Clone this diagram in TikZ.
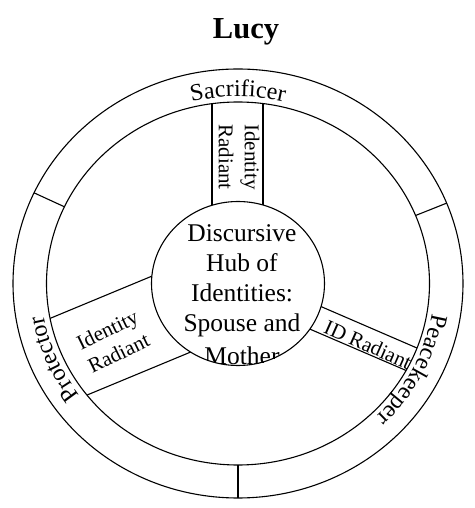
\documentclass[tikz,border=0pt]{standalone}
\usepackage{fontspec}
\setmainfont{Liberation Serif}
\usetikzlibrary{decorations.text}
\begin{document}
\begin{tikzpicture}[x=1pt,y=1pt, line width=1.1pt,
  ringtext/.style={decorate, decoration={text along path, text align=center,
      text={|\fontsize{24}{28}\selectfont|#1}}},
  spoketext/.style={font=\fontsize{21}{26}\selectfont, align=center, inner sep=0pt},
  hubtext/.style={font=\fontsize{25.5}{30}\selectfont, anchor=base, inner sep=0pt}]
\useasboundingbox (-238,-224.5) rectangle (236,283.5);
% title
\node[font=\bfseries\fontsize{30.5}{36}\selectfont, anchor=base, inner sep=0pt] (title) at (8,245) {Lucy};
% outer ring
\draw (0,0) ellipse [x radius=225, y radius=214.5];
\draw (0,0) ellipse [x radius=191.5, y radius=181.5];
\foreach \t in {155,22,270} \draw (\t:191.5 and 181.5) -- (\t:225 and 214.5);
% spokes
\begin{scope}
  \clip (0,0) ellipse [x radius=191.5, y radius=181.5];
  \draw (-26,0) -- (-26,250);
  \draw (25,0) -- (25,250);
  \draw (0,43.1) -- (-250,-60.65);
  \draw (0,-48.9) -- (-250,-152.65);
  \draw (0,12.8) -- (250,-95.2);
  \draw (0,-14.7) -- (250,-122.2);
\end{scope}
% ring labels
\path[ringtext=Sacrificer] (130:197 and 187) arc[start angle=130, end angle=50, x radius=197, y radius=187];
\path[ringtext=Protector] (240:197 and 187) arc[start angle=240, end angle=166, x radius=197, y radius=187];
\path[ringtext=Peacekeeper] (8:197 and 187) arc[start angle=8, end angle=-62, x radius=197, y radius=187];
% hub
\draw[fill=white] (0,0) ellipse [x radius=86.5, y radius=82];
\begin{scope}
  \clip (0,0) ellipse [x radius=86.5, y radius=82];
  \node[hubtext] (h1) at (4,41.8) {Discursive};
  \node[hubtext] (h2) at (4,11.8) {Hub of};
  \node[hubtext] (h3) at (4,-18.2) {Identities:};
  \node[hubtext] (h4) at (4,-48.2) {Spouse and};
  \node[hubtext] (h5) at (4,-81) {Mother};
\end{scope}
% spoke labels
\node[spoketext, rotate=-90] (topr) at (1,126.5) {Identity\\Radiant};
\node[spoketext, rotate=26] (leftr) at (-125,-58) {Identity\\Radiant};
\node[spoketext, rotate=-24] (rightr) at (130,-61) {ID Radiant};
\end{tikzpicture}
\end{document}
